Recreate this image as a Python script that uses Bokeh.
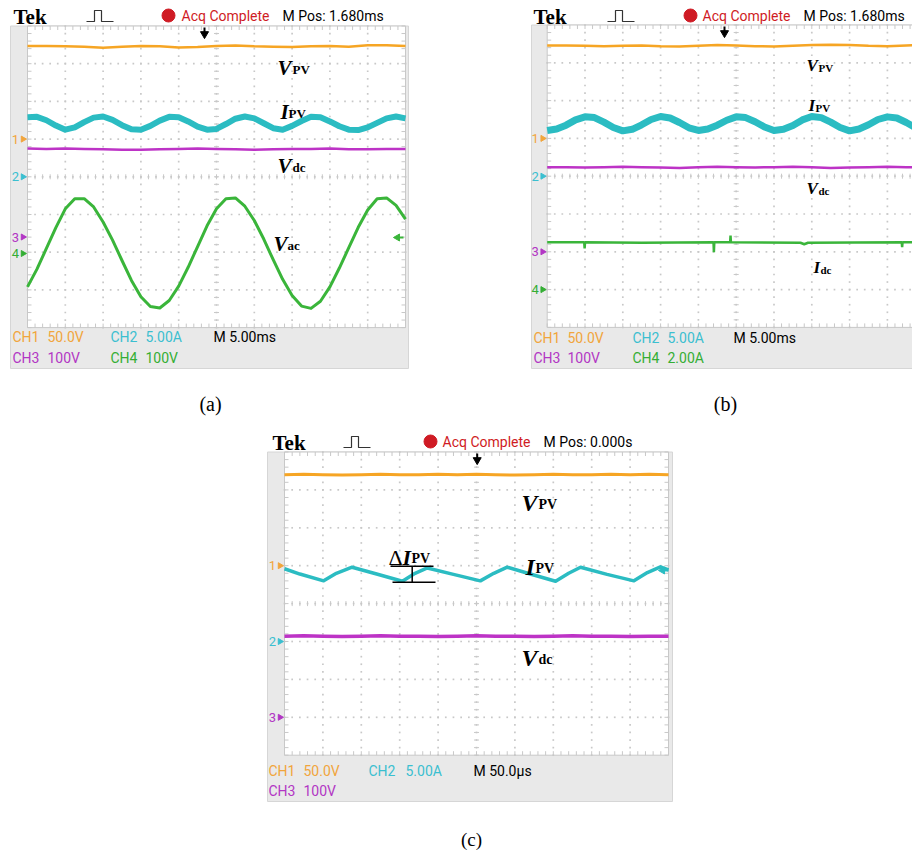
import numpy as np
from bokeh.plotting import figure
from bokeh.models import Range1d
from bokeh.layouts import row, column
from bokeh.embed import file_html
from bokeh.resources import INLINE
from bokeh.core.properties import value

# ---------------- data (scope divisions: x 0..10, y 0..8 from bottom) ----------------
x_q = [i * 0.25 for i in range(41)]   # sample positions, every 0.25 div
x_h = [i * 0.5 for i in range(21)]    # sample positions, every 0.5 div

# (a)
a_vpv = [7.47, 7.47, 7.46, 7.45, 7.42, 7.45, 7.47, 7.46, 7.43, 7.44, 7.47,
         7.48, 7.46, 7.45, 7.44, 7.46, 7.47, 7.45, 7.49, 7.49, 7.47]
a_ipv = [5.58, 5.59, 5.50, 5.36, 5.25, 5.31, 5.45, 5.57, 5.60, 5.51, 5.37,
         5.26, 5.25, 5.35, 5.49, 5.59, 5.58, 5.47, 5.33, 5.25, 5.27, 5.40,
         5.54, 5.60, 5.55, 5.42, 5.29, 5.25, 5.35, 5.48, 5.59, 5.58, 5.47,
         5.34, 5.25, 5.24, 5.31, 5.43, 5.55, 5.60, 5.55]
a_vdc = [4.75, 4.74, 4.75, 4.74, 4.73, 4.72, 4.72, 4.73, 4.74, 4.75, 4.74,
         4.73, 4.72, 4.73, 4.74, 4.74, 4.75, 4.73, 4.73, 4.74, 4.74]
a_vac = [1.08, 1.55, 2.10, 2.65, 3.15, 3.42, 3.42, 3.20, 2.80, 2.32, 1.78,
         1.25, 0.82, 0.56, 0.52, 0.72, 1.10, 1.60, 2.15, 2.70, 3.15, 3.42,
         3.44, 3.22, 2.84, 2.35, 1.80, 1.28, 0.85, 0.57, 0.51, 0.70, 1.08,
         1.58, 2.12, 2.66, 3.12, 3.42, 3.44, 3.24, 2.88]
a_row1 = ["CH1", "50.0V", "CH2", "5.00A", "M 5.00ms"]
a_row2 = ["CH3", "100V", "CH4", "100V"]
a_mpos = "M Pos: 1.680ms"

# (b)
b_vpv = [7.46, 7.46, 7.45, 7.44, 7.45, 7.46, 7.44, 7.43, 7.45, 7.47, 7.46,
         7.44, 7.43, 7.45, 7.47, 7.48, 7.47, 7.45, 7.44, 7.46, 7.47]
b_ipv = [5.21, 5.25, 5.35, 5.49, 5.57, 5.55, 5.43, 5.29,
         5.20, 5.24, 5.36, 5.50, 5.58, 5.54, 5.42, 5.28,
         5.21, 5.25, 5.35, 5.48, 5.57, 5.55, 5.44, 5.30,
         5.21, 5.24, 5.34, 5.49, 5.58, 5.55, 5.43, 5.29,
         5.20, 5.25, 5.36, 5.50, 5.57, 5.54, 5.42, 5.28, 5.21]
b_vdc = [4.24, 4.24, 4.23, 4.24, 4.25, 4.24, 4.23, 4.22, 4.24, 4.25, 4.24,
         4.23, 4.24, 4.25, 4.24, 4.22, 4.23, 4.24, 4.25, 4.24, 4.24]
b_idc_x = [0, 0.98, 0.99, 1.00, 2.5, 4.40, 4.41, 4.42, 4.84, 4.85, 4.86,
           6.7, 6.8, 6.9, 9.38, 9.39, 9.40, 10]
b_idc = [2.25, 2.25, 2.09, 2.25, 2.24, 2.25, 1.99, 2.25, 2.25, 2.43, 2.25,
         2.24, 2.20, 2.24, 2.25, 2.12, 2.25, 2.25]
b_row1 = ["CH1", "50.0V", "CH2", "5.00A", "M 5.00ms"]
b_row2 = ["CH3", "100V", "CH4", "2.00A"]
b_mpos = "M Pos: 1.680ms"

# (c)
c_vpv = [7.40, 7.41, 7.40, 7.39, 7.40, 7.41, 7.40, 7.40, 7.41, 7.40, 7.41,
         7.40, 7.39, 7.40, 7.41, 7.40, 7.40, 7.41, 7.40, 7.41, 7.40]
c_ipv_x = [0, 0.4, 1.02, 1.35, 1.76, 2.4, 3.07, 3.4, 3.72, 4.4, 5.10, 5.45,
           5.80, 6.4, 7.06, 7.4, 7.71, 8.4, 9.10, 9.45, 9.79, 10.0]
c_ipv = [4.92, 4.78, 4.60, 4.80, 4.96, 4.78, 4.59, 4.80, 4.94, 4.77, 4.60,
         4.80, 4.96, 4.78, 4.59, 4.80, 4.96, 4.77, 4.60, 4.82, 4.97, 4.89]
c_vdc = [3.14, 3.15, 3.14, 3.13, 3.14, 3.15, 3.14, 3.14, 3.13, 3.14, 3.15,
         3.14, 3.14, 3.13, 3.14, 3.15, 3.14, 3.14, 3.13, 3.14, 3.14]
c_row1 = ["CH1", "50.0V", "CH2", "5.00A", "M 50.0\u03bcs"]
c_row2 = ["CH3", "100V"]
c_mpos = "M Pos: 0.000s"

# ---------------- styles ----------------
ORANGE = "#f6a524"; CYAN = "#2bbcc2"; MAGENTA = "#bd33c6"; GREEN = "#3ab53a"
T_OR = "#f1a53c"; T_CY = "#3bbfd0"; T_MG = "#b236c4"; T_GR = "#34ae34"
RED = "#cf1b24"
GRIDC = "#c8c8c8"
SANS = value("Roboto")
SERIF = value("Liberation Serif")


class Scope:
    def __init__(self, left, right, top, bottom, gx0, gy0, sx, sy):
        self.gx0, self.gy0, self.sx, self.sy = gx0, gy0, sx, sy
        self.p = figure(width=right - left, height=bottom - top,
                        x_range=Range1d(self.X(left), self.X(right)),
                        y_range=Range1d(self.Y(bottom), self.Y(top)),
                        output_backend="svg", toolbar_location=None,
                        x_axis_type=None, y_axis_type=None, min_border=0,
                        outline_line_color=None, background_fill_color="white",
                        border_fill_color="white")

    def X(self, px):
        return (px - self.gx0) / self.sx

    def Y(self, py):
        return 8 - (py - self.gy0) / self.sy

    def text(self, px, py, s, color="black", size=14, font=SANS, style="normal",
             align="left", baseline="middle"):
        self.p.text(x=[self.X(px)], y=[self.Y(py)], text=[s], text_color=color,
                    text_font_size=f"{size}px", text_font=font, text_font_style=style,
                    text_align=align, text_baseline=baseline)

    def frame(self, fl, fr, fb):
        p = self.p
        p.quad(left=[self.X(fl)], right=[self.X(fr)], bottom=[self.Y(fb)], top=[8],
               fill_color="#e9e9e9", line_color="#d6d6d6", line_width=1)
        p.quad(left=[0], right=[10], bottom=[0], top=[8], fill_color="white",
               line_color=GRIDC, line_width=1)
        fx = np.round(np.arange(0, 10.001, 0.2), 3)
        fy = np.round(np.arange(0, 8.001, 0.2), 3)
        dx, dy = [], []
        for gy in range(1, 8):
            dx += list(fx); dy += [gy] * len(fx)
        for gx in range(1, 10):
            dx += [gx] * len(fy); dy += list(fy)
        p.scatter(dx, dy, marker="square", size=1.7, fill_color=GRIDC, line_color=None)
        tx, ty = 2.5 / self.sx, 2.5 / self.sy
        p.segment(x0=list(fx), y0=[4 - ty] * len(fx), x1=list(fx), y1=[4 + ty] * len(fx),
                  line_color=GRIDC, line_width=1)
        p.segment(x0=[5 - tx] * len(fy), y0=list(fy), x1=[5 + tx] * len(fy), y1=list(fy),
                  line_color=GRIDC, line_width=1)
        bx, by = 4 / self.sx, 4 / self.sy
        n, m = len(fx), len(fy)
        p.segment(x0=list(fx), y0=[0] * n, x1=list(fx), y1=[by] * n, line_color=GRIDC)
        p.segment(x0=list(fx), y0=[8] * n, x1=list(fx), y1=[8 - by] * n, line_color=GRIDC)
        p.segment(x0=[0] * m, y0=list(fy), x1=[bx] * m, y1=list(fy), line_color=GRIDC)
        p.segment(x0=[10] * m, y0=list(fy), x1=[10 - bx] * m, y1=list(fy), line_color=GRIDC)

    def chmark(self, label, ydiv, color):
        self.p.text(x=[self.X(self.gx0 - 8.5)], y=[ydiv], text=[label], text_color=color,
                    text_font_size="13px", text_font=SANS, text_align="right",
                    text_baseline="middle")
        self.p.scatter(x=[self.X(self.gx0 - 4.5)], y=[ydiv], marker="triangle",
                       angle=-np.pi / 2, size=6, fill_color=color, line_color=color)

    def trig(self, xdiv):
        p = self.p
        p.segment(x0=[xdiv], y0=[self.Y(self.gy0 + 1.5)], x1=[xdiv], y1=[self.Y(self.gy0 + 6)],
                  line_color="black", line_width=2)
        p.scatter(x=[xdiv], y=[self.Y(self.gy0 + 8)], marker="inverted_triangle", size=8,
                  fill_color="black", line_color="black")

    def level(self, px, py, color):
        p = self.p
        p.scatter(x=[self.X(px)], y=[self.Y(py)], marker="triangle", angle=np.pi / 2,
                  size=7, fill_color=color, line_color=color)
        p.segment(x0=[self.X(px)], y0=[self.Y(py)], x1=[self.X(px + 6)], y1=[self.Y(py)],
                  line_color=color, line_width=2)

    def header(self, y, x_tek, x_pulse, x_dot, x_acq, x_mpos, mpos):
        self.text(x_tek, y + 1, "Tek", size=21, font=SERIF, style="bold")
        xs = [x_pulse, x_pulse + 8, x_pulse + 8, x_pulse + 15, x_pulse + 15, x_pulse + 27]
        ys = [y + 6, y + 6, y - 5, y - 5, y + 6, y + 6]
        self.p.line([self.X(v) for v in xs], [self.Y(v) for v in ys], line_color="#333333",
                    line_width=1.2)
        self.p.scatter(x=[self.X(x_dot)], y=[self.Y(y)], marker="circle", size=13,
                       fill_color=RED, line_color=RED)
        self.text(x_acq, y, "Acq Complete", color=RED, size=14)
        self.text(x_mpos, y, mpos, size=14)

    def settings(self, y, items, xs, colors):
        for s, x, c in zip(items, xs, colors):
            self.text(x, y, s, color=c, size=14)

    def sig(self, px, py, main, sub, msize, ssize, sub_dx, sub_dy=1):
        self.text(px, py, main, size=msize, font=SERIF, style="bold italic",
                  baseline="alphabetic")
        self.text(px + sub_dx, py + sub_dy, sub, size=ssize, font=SERIF, style="bold",
                  baseline="alphabetic")


# ---------------- panel (a) ----------------
A = Scope(0, 458, 0, 420, gx0=27, gy0=25.5, sx=37.8, sy=37.7)
A.frame(10, 408, 368)
A.p.line(x_h, a_vpv, line_color=ORANGE, line_width=2.5)
A.p.line(x_q, a_ipv, line_color=CYAN, line_width=6, line_join="round")
A.p.line(x_h, a_vdc, line_color=MAGENTA, line_width=2.5)
A.p.line(x_q, a_vac, line_color=GREEN, line_width=3, line_join="round")
A.chmark("1", 5.0, T_OR)
A.chmark("2", 4.0, T_CY)
A.chmark("3", A.Y(236.5), T_MG)
A.chmark("4", A.Y(253), T_GR)
A.trig(A.X(204))
A.level(397, 237, GREEN)
A.header(15, 13, 86, 168, 181, 282, a_mpos)
A.settings(336, a_row1, [12, 47, 110, 145, 213], [T_OR, T_OR, T_CY, T_CY, "black"])
A.settings(357, a_row2, [12, 47, 110, 145], [T_MG, T_MG, T_GR, T_GR])
A.sig(277, 67, "V", "PV", 21, 13, 15, 2)
A.sig(280, 111, "I", "PV", 21, 13, 8, 2)
A.sig(277, 165, "V", "dc", 21, 13, 15, 2)
A.sig(273, 243, "V", "ac", 21, 13, 14, 2)
A.text(210, 403, "(a)", size=20, font=SERIF, align="center")

# ---------------- panel (b) ----------------
B = Scope(458, 912, 0, 420, gx0=546.7, gy0=24.5, sx=37.8, sy=37.8)
B.frame(531, 930, 368)
B.p.line(x_h, b_vpv, line_color=ORANGE, line_width=2.5)
B.p.line(x_q, b_ipv, line_color=CYAN, line_width=7, line_join="round")
B.p.line(x_h, b_vdc, line_color=MAGENTA, line_width=2.5)
B.p.line(b_idc_x, b_idc, line_color=GREEN, line_width=2.5)
B.chmark("1", 5.0, T_OR)
B.chmark("2", 4.0, T_CY)
B.chmark("3", 2.0, T_MG)
B.chmark("4", 1.0, T_GR)
B.trig(B.X(724))
B.header(15, 533, 607, 690, 702, 803, b_mpos)
B.settings(337, b_row1, [533, 567, 632, 667, 733], [T_OR, T_OR, T_CY, T_CY, "black"])
B.settings(357, b_row2, [533, 567, 632, 667], [T_MG, T_MG, T_GR, T_GR])
B.sig(806, 65, "V", "PV", 17, 11, 12, 2)
B.sig(808, 105, "I", "PV", 17, 11, 7, 2)
B.sig(806, 188, "V", "dc", 17, 11, 12, 2)
B.sig(813, 267, "I", "dc", 17, 11, 7, 2)
B.text(725, 403, "(b)", size=20, font=SERIF, align="center")

# ---------------- panel (c) ----------------
C = Scope(0, 912, 420, 851, gx0=284, gy0=451.5, sx=38.4, sy=37.9)
C.frame(267, 672, 801)
C.p.line(x_h, c_vpv, line_color=ORANGE, line_width=3)
C.p.line(c_ipv_x, c_ipv, line_color=CYAN, line_width=3.5, line_join="round")
C.p.line(x_h, c_vdc, line_color=MAGENTA, line_width=3.5)
C.chmark("1", 5.0, T_OR)
C.chmark("2", 3.0, T_CY)
C.chmark("3", 1.0, T_MG)
C.trig(C.X(476.7))
C.level(662, 570, CYAN)
C.header(441, 272, 343, 430, 442, 543, c_mpos)
C.settings(770, c_row1, [268, 303, 368, 405, 473], [T_OR, T_OR, T_CY, T_CY, "black"])
C.settings(790, c_row2, [268, 303], [T_MG, T_MG])
C.sig(521, 502, "V", "PV", 24, 14, 17, 2)
C.sig(525, 566, "I", "PV", 24, 14, 10, 2)
C.sig(521, 657, "V", "dc", 24, 14, 17, 2)
# Delta I_PV annotation
C.text(388, 557, "\u0394", size=22, font=SERIF, baseline="alphabetic")
C.sig(402, 557, "I", "PV", 22, 14, 9, 1)
C.p.segment(x0=[C.X(390), C.X(392), C.X(411.7)], y0=[C.Y(565.7), C.Y(581.7), C.Y(565.7)],
            x1=[C.X(433), C.X(435), C.X(411.7)], y1=[C.Y(565.7), C.Y(581.7), C.Y(581.7)],
            line_color="black", line_width=1.5)
C.text(471, 839, "(c)", size=19, font=SERIF, align="center")

layout = column(row(A.p, B.p), C.p)
open("out.html", "w").write(file_html(layout, INLINE))
